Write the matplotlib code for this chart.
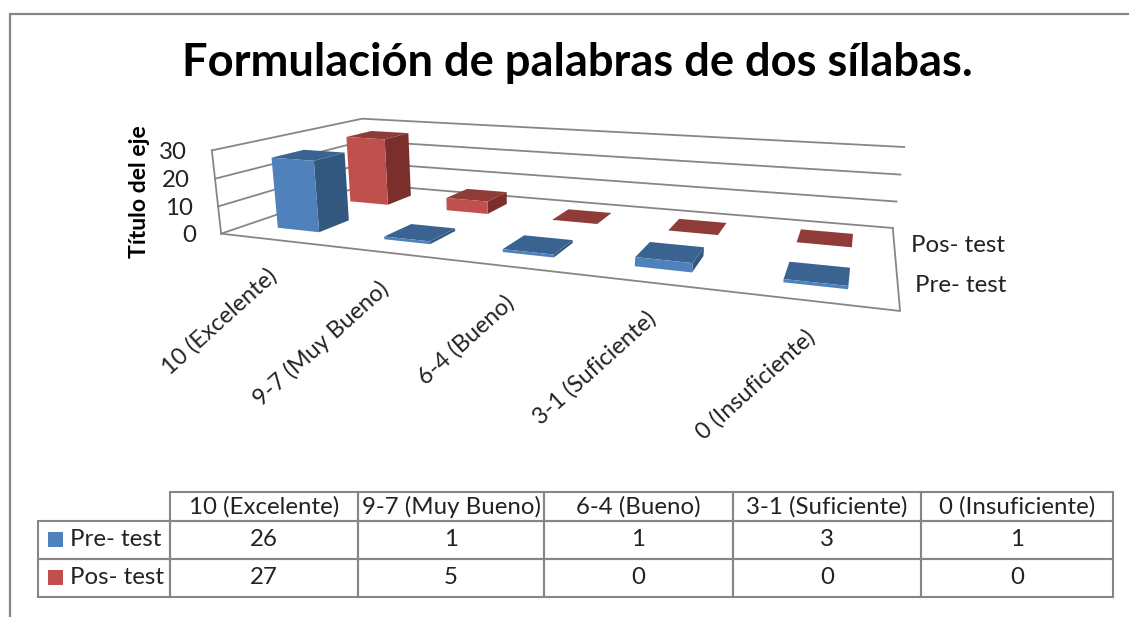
import numpy as np
import matplotlib
matplotlib.use("Agg")
import matplotlib.pyplot as plt
from matplotlib.table import Table
from matplotlib.patches import Rectangle
from mpl_toolkits.mplot3d import Axes3D  # noqa

categories = ["10 (Excelente)", "9-7 (Muy Bueno)", "6-4 (Bueno)", "3-1 (Suficiente)", "0 (Insuficiente)"]
series_names = ["Pre- test", "Pos- test"]
pre_test = [26, 1, 1, 3, 1]
pos_test = [27, 5, 0, 0, 0]
z_ticks = [0, 10, 20, 30]

W, H = 1129, 617
plt.rcParams['font.family'] = ['Lato', 'DejaVu Sans']
TXT = '#222222'
EDGE = '#868686'
BLUE = dict(front='#4f81bd', top='#3b6391', side='#33587f')
RED = dict(front='#c0504d', top='#8f3b38', side='#7b2f2d')
NONE = (0, 0, 0, 0)

fig = plt.figure(figsize=(W / 100, H / 100), dpi=100, facecolor='white')

# Overlay for frame, text and table (pixel coordinates)
bg = fig.add_axes([0, 0, 1, 1])
bg.set_xlim(0, W); bg.set_ylim(H, 0); bg.axis('off')
bg.plot([10, 10, W], [H, 14, 14], color=EDGE, lw=1.6, solid_joinstyle='miter')

# Camera: fit a projective map (data -> pixels) to the plot-box corners
nx, ny, zmax = len(categories), len(series_names), z_ticks[-1]
anchors = [((0, 0, 0), (222, 234)), ((nx, 0, 0), (900, 311)), ((0, ny, 0), (365, 184)),
           ((nx, ny, 0), (893, 228)), ((0, 0, zmax), (211, 150)), ((0, ny, zmax), (363, 119)),
           ((nx, ny, zmax), (904, 147))]
rows, rhs = [], []
for (x, y, z), (u, v) in anchors:
    rows.append([x, y, z, 1, 0, 0, 0, 0, -u * x, -u * y, -u * z]); rhs.append(u)
    rows.append([0, 0, 0, 0, x, y, z, 1, -v * x, -v * y, -v * z]); rhs.append(v)
sol = np.linalg.lstsq(np.array(rows, float), np.array(rhs, float), rcond=None)[0]
P = np.array([sol[:4], sol[4:8], [0, 1, 0, 0], [*sol[8:11], 1.0]])
flip = np.array([[1, 0, 0, 0], [0, -1, 0, H], [0, 0, 1, 0], [0, 0, 0, 1.0]])


def to_px(x, y, z):
    q = P @ np.array([x, y, z, 1.0])
    return q[0] / q[3], q[1] / q[3]


ax = fig.add_axes([0, 0, 1, 1], projection='3d', proj_type='ortho')
ax.apply_aspect = lambda position=None, **kw: None


def get_proj():
    aff = ax.transData.get_affine().get_matrix()
    inv = np.linalg.inv(aff)
    A = np.array([[inv[0, 0], 0, 0, inv[0, 2]], [0, inv[1, 1], 0, inv[1, 2]], [0, 0, 1, 0], [0, 0, 0, 1.0]])
    return A @ flip @ P


ax.get_proj = get_proj
ax.computed_zorder = False
ax.set_axis_off()
ax.patch.set_visible(False)

# Walls and floor
for z in z_ticks:
    ax.plot([0, 0, nx], [0, ny, ny], [z, z, z], color=EDGE, lw=1.3, zorder=1)
ax.plot([0, nx, nx], [0, 0, ny], [0, 0, 0], color=EDGE, lw=1.3, zorder=1)
ax.plot([0, 0], [0, 0], [0, zmax], color=EDGE, lw=1.3, zorder=1)

# Bars
bar_w, bar_d = 0.40, 0.40
for s, (vals, pal) in enumerate(zip([pre_test, pos_test], [BLUE, RED])):
    for i, val in enumerate(vals):
        ax.bar3d(i + 0.5 - bar_w / 2, s + 0.5 - bar_d / 2, 0, bar_w, bar_d, val,
                 color=[NONE, pal['top'], pal['front'], NONE, NONE, pal['side']],
                 shade=False, zorder=3 - s)

# Axis text
fs = 17.3
for z in z_ticks:
    u, v = to_px(0, 0, z)
    bg.text(u - 25, v + 2, str(z), ha='right', va='center', fontsize=fs, color=TXT)
for i, c in enumerate(categories):
    u, v = to_px(i + 0.5, 0, 0)
    bg.text(u - 7, v + 25, c, rotation=42, rotation_mode='anchor', ha='right', va='top', fontsize=16.8, color=TXT)
for s, name in enumerate(series_names):
    u, v = to_px(nx, s + 0.5, 0)
    bg.text(u + 17, v + 1, name, ha='left', va='center', fontsize=fs, color=TXT)

bg.text(577, 63, "Formulación de palabras de dos sílabas.", ha='center', va='center',
        fontsize=32.6, fontweight='bold', color='black')
bg.text(139, 192, "Título del eje", rotation=90, ha='center', va='center',
        fontsize=16.6, fontweight='bold', color='black')

# Data table
xs = [38, 170, 358, 544, 733, 921, 1113]
ys = [492, 521, 559, 597]
tot_w, tot_h = xs[-1] - xs[0], ys[-1] - ys[0]
tab = Table(bg, bbox=[xs[0] / W, 1 - ys[-1] / H, tot_w / W, tot_h / H])
col_w = [(xs[i + 1] - xs[i]) / tot_w for i in range(6)]
row_h = [(ys[i + 1] - ys[i]) / tot_h for i in range(3)]
table_rows = [[""] + categories,
              [series_names[0]] + [str(v) for v in pre_test],
              [series_names[1]] + [str(v) for v in pos_test]]
for r, row in enumerate(table_rows):
    for c, t in enumerate(row):
        cell = tab.add_cell(r, c, col_w[c], row_h[r], text=t, loc='left' if c == 0 else 'center',
                            edgecolor=EDGE, facecolor='none')
        cell.set_linewidth(1.5)
        cell.get_text().set_color(TXT)
        if c == 0:
            cell.PAD = 0.24
        if r == 0 and c == 0:
            cell.visible_edges = ''
tab.auto_set_font_size(False)
tab.set_fontsize(fs)
bg.add_table(tab)
for r, col in zip([1, 2], [BLUE['front'], RED['front']]):
    cy = (ys[r] + ys[r + 1]) / 2
    bg.add_patch(Rectangle((48, cy - 8), 15, 15, facecolor=col, edgecolor='none'))

fig.savefig('out.png', dpi=100, facecolor='white')
